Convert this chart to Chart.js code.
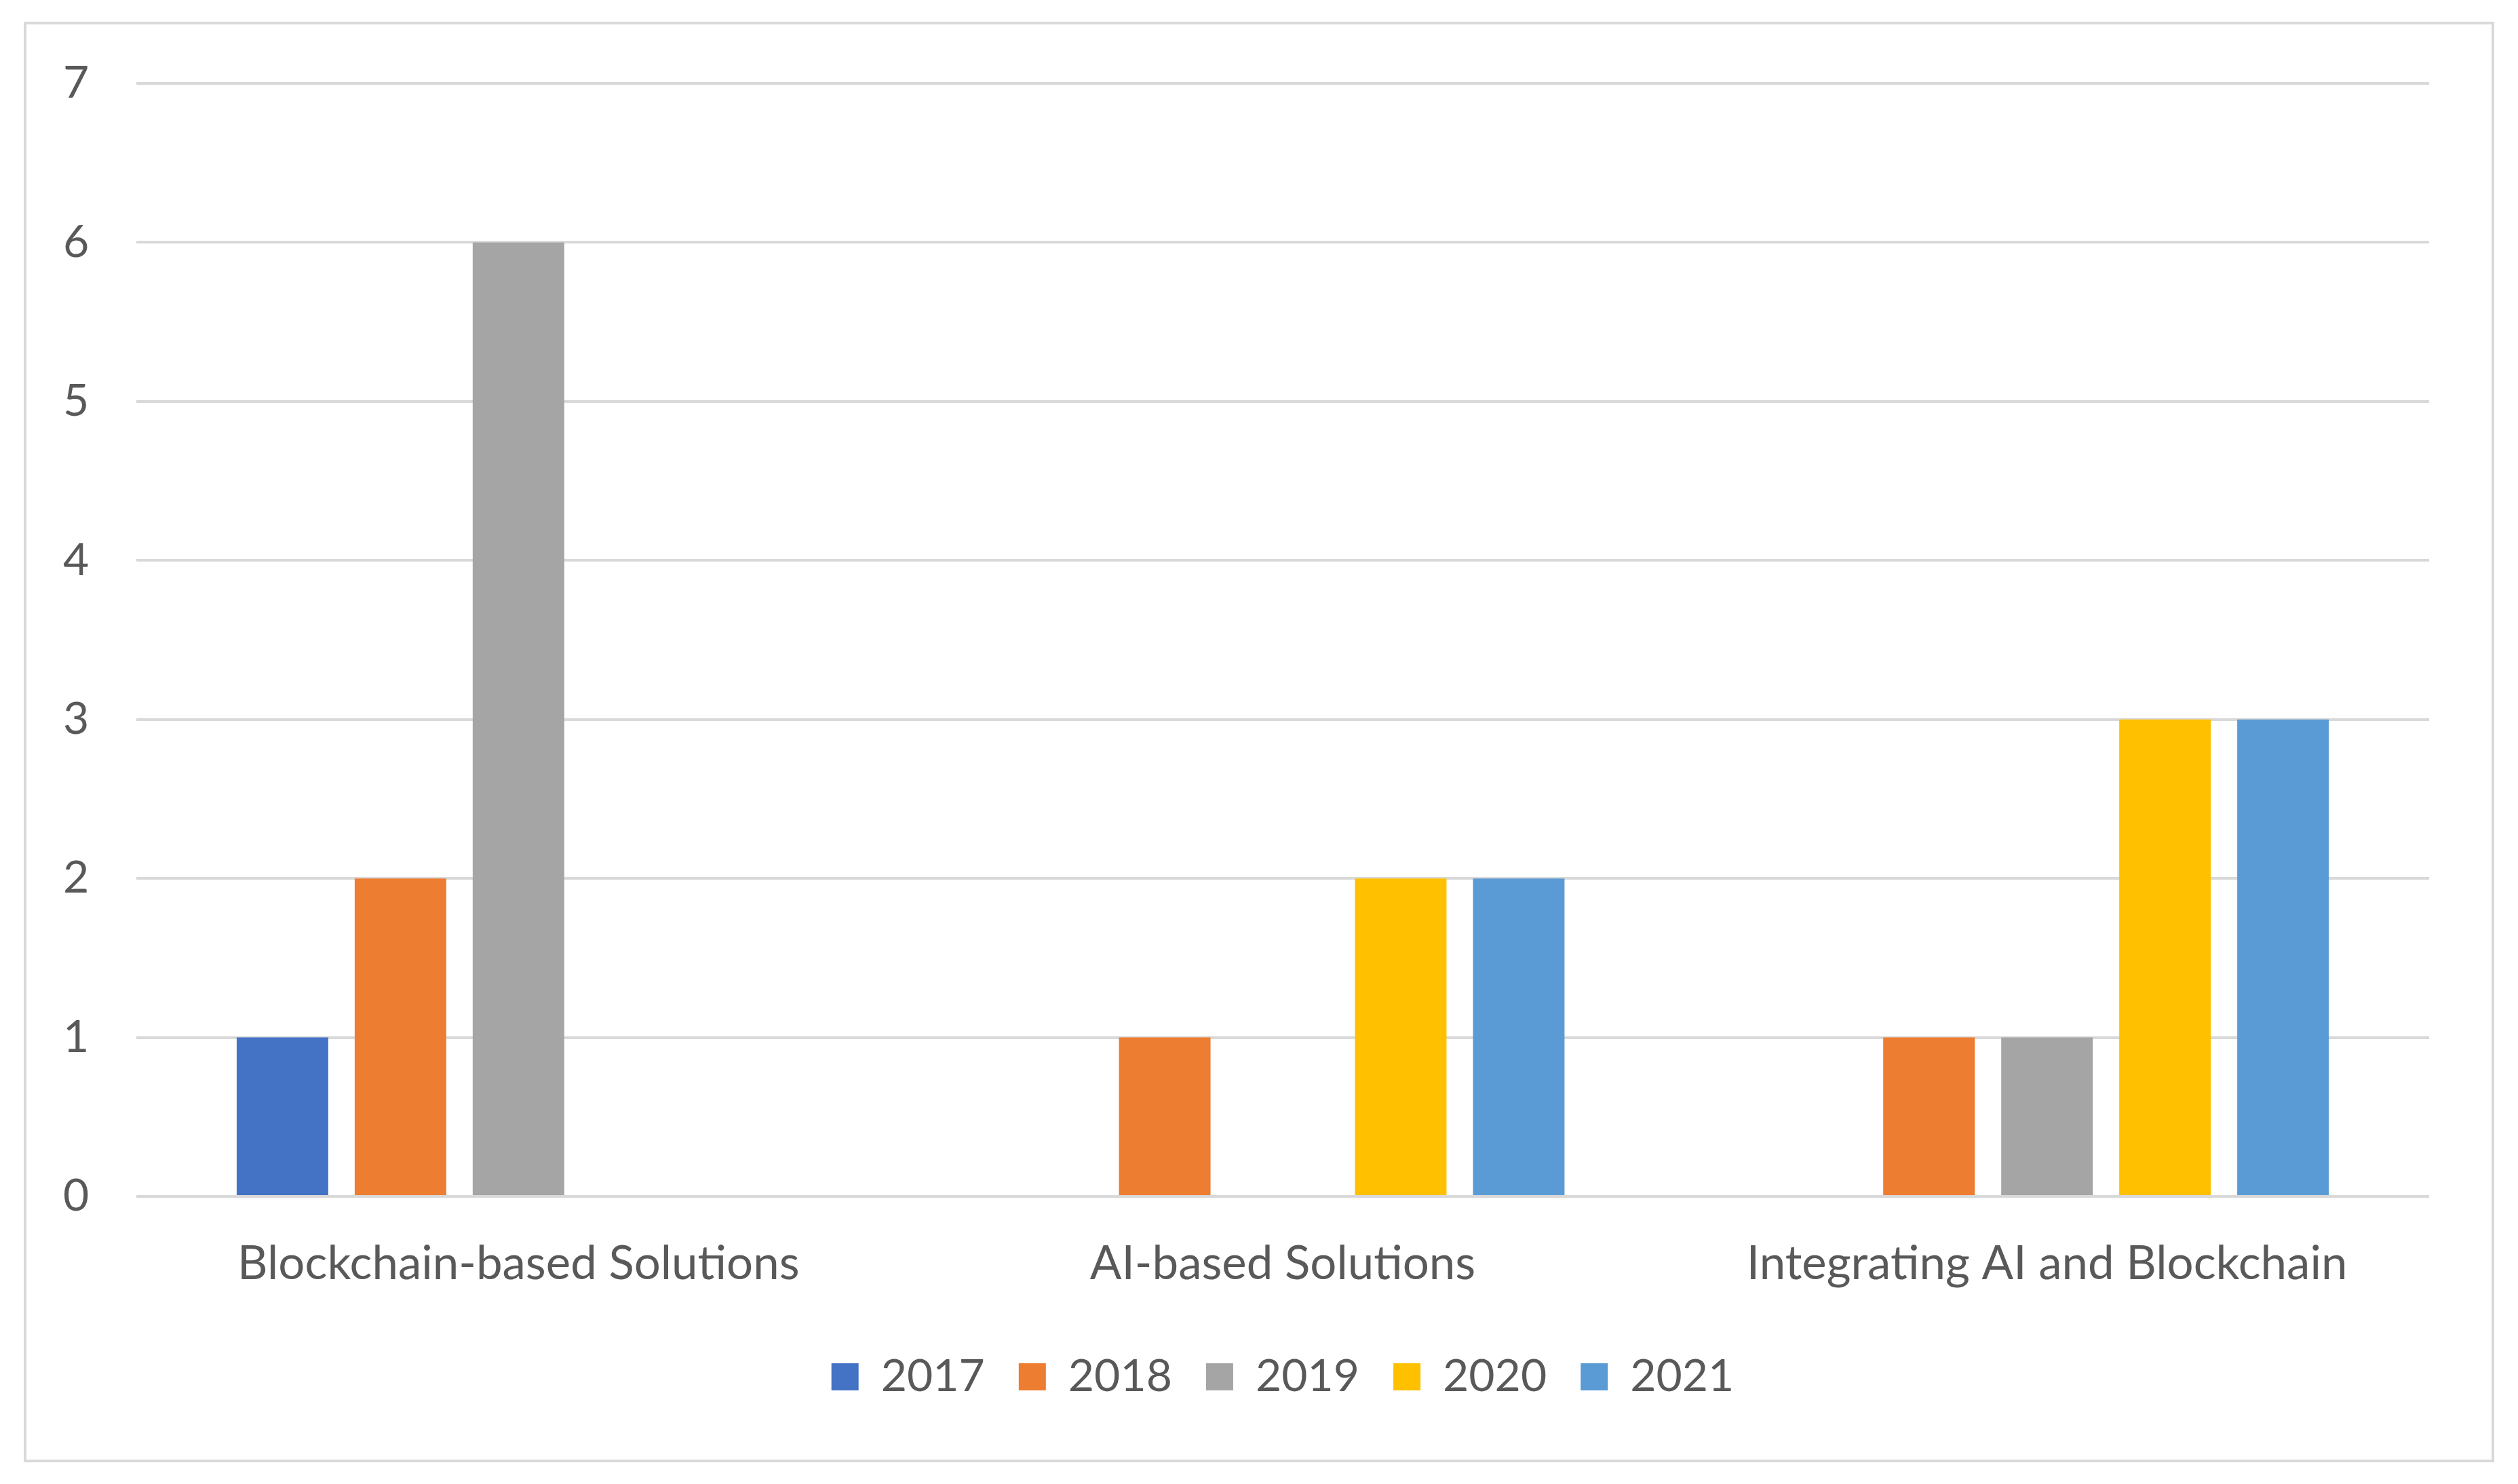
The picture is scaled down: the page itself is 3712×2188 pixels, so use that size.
<!DOCTYPE html>
<html lang="en">
<head>
    <meta charset="UTF-8">
    <title>Solutions by year</title>
    <script src="https://cdn.jsdelivr.net/npm/chart.js"></script>
    <style>
        body {
            margin: 0;
            width: 3712px;
            height: 2188px;
            background-color: white;
            position: relative;
            overflow: hidden;
        }
        .frame {
            position: absolute;
            left: 35px;
            top: 32px;
            width: 3642px;
            height: 2124px;
            box-sizing: border-box;
            border: 4px solid #d9d9d9;
        }
        .chart-container {
            position: relative;
            width: 3634px;
            height: 2116px;
        }
    </style>
</head>
<body>
    <div class="frame">
        <div class="chart-container">
            <canvas id="yearChart"></canvas>
        </div>
    </div>

    <script>
        const categories = ['Blockchain-based Solutions', 'AI-based Solutions', 'Integrating AI and Blockchain'];
        const years = ['2017', '2018', '2019', '2020', '2021'];
        const values2017 = [1, 0, 0];
        const values2018 = [2, 1, 1];
        const values2019 = [6, 0, 1];
        const values2020 = [0, 2, 3];
        const values2021 = [0, 2, 3];
        const yTicks = [0, 1, 2, 3, 4, 5, 6, 7];

        const colors = ['#4472C4', '#ED7D31', '#A5A5A5', '#FFC000', '#5B9BD5'];
        const series = [values2017, values2018, values2019, values2020, values2021];

        const fontFamily = 'Lato, "Open Sans", sans-serif';
        const textColor = '#595959';

        let yearChart = new Chart(
            document.getElementById('yearChart'),
            {
                type: 'bar',
                data: {
                    labels: categories,
                    datasets: years.map((y, i) => ({
                        label: y,
                        data: series[i],
                        backgroundColor: colors[i],
                        borderWidth: 0,
                        categoryPercentage: 0.772,
                        barPercentage: 0.776
                    }))
                },
                options: {
                    responsive: true,
                    maintainAspectRatio: false,
                    animation: false,
                    devicePixelRatio: 1,
                    layout: {
                        padding: { left: 54, right: 92, top: 87, bottom: 79 }
                    },
                    plugins: {
                        tooltip: { enabled: false },
                        legend: {
                            position: 'bottom',
                            fullSize: false,
                            labels: {
                                boxWidth: 40,
                                boxHeight: 40,
                                padding: 50,
                                color: textColor,
                                font: { family: fontFamily, size: 66 }
                            }
                        }
                    },
                    scales: {
                        x: {
                            grid: { display: false, drawTicks: false },
                            border: { display: false },
                            ticks: {
                                color: textColor,
                                padding: 58,
                                font: { family: fontFamily, size: 69 }
                            },
                            afterFit: scale => { scale.height = 183; }
                        },
                        y: {
                            min: 0,
                            max: 7,
                            afterBuildTicks: scale => {
                                scale.ticks = yTicks.map(v => ({ value: v }));
                            },
                            grid: { color: '#d9d9d9', lineWidth: 4, drawTicks: false },
                            border: { display: false },
                            ticks: {
                                color: textColor,
                                padding: 0,
                                crossAlign: 'far',
                                font: { family: fontFamily, size: 66 }
                            },
                            afterFit: scale => { scale.width = 108; }
                        }
                    }
                }
            }
        );
    </script>
</body>
</html>
